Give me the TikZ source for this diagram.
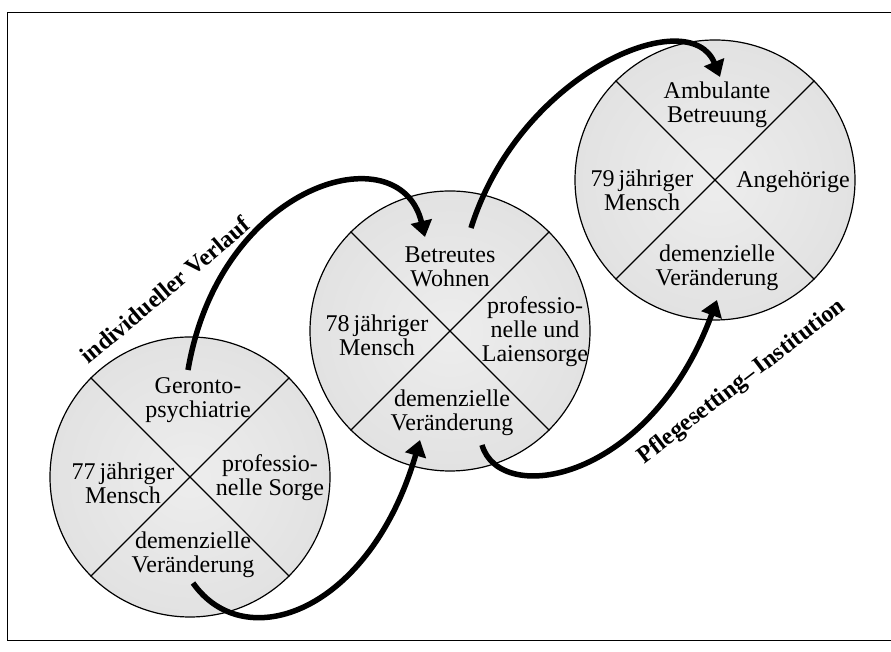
\documentclass[tikz,border=0pt]{standalone}
\usepackage{fontspec}
\setmainfont{Liberation Serif}
\usetikzlibrary{positioning, arrows.meta}
\colorlet{rimlight}{gray!14}
\colorlet{rimmid}{gray!26}
\colorlet{rimdark}{gray!55}
\colorlet{rimedge}{gray!75}
\pgfdeclareradialshading{rim}{\pgfpoint{0bp}{0bp}}{color(0bp)=(rimlight); color(34bp)=(rimmid); color(45bp)=(rimdark); color(50bp)=(rimedge)}

\begin{document}
\begin{tikzpicture}[x=1pt, y=1pt, thick]
    % Define styles
    \tikzstyle{disc} = [circle, draw, line width=1.2pt, minimum size=280pt, shade, shading=rim]
    \tikzstyle{quarter} = [align=center, inner sep=1pt, font=\fontsize{24}{24}\selectfont]
    \tikzstyle{course} = [font=\bfseries\fontsize{24}{24}\selectfont]
    \tikzstyle{flow} = [line width=5.5pt, -{Triangle[width=21pt, length=16pt]}]
    \useasboundingbox (0,0) rectangle (891,652);
    \draw[line width=1pt] (891,639) -- (7,639) -- (7,11) -- (891,11);

    % Circles
    \node [disc] (c1) at (190,175) {};
    \node [disc] (c2) at (450,321) {};
    \node [disc] (c3) at (715,472) {};
    \foreach \c in {c1,c2,c3} {
      \draw[line width=1.2pt] (\c.north west) -- (\c.south east);
      \draw[line width=1.2pt] (\c.north east) -- (\c.south west);
    }

    % Quarters
    \node [quarter] (top1) at ([shift={(8,77)}]c1.center) {Geronto-\\psychiatrie};
    \node [quarter] (left1) at ([shift={(-67,-6)}]c1.center) {77\,jähriger\\Mensch};
    \node [quarter] (right1) at ([shift={(80,-1)}]c1.center) {professio-\\nelle Sorge};
    \node [quarter] (bot1) at ([shift={(3,-78)}]c1.center) {demenzielle\\Veränderung};

    \node [quarter] (top2) at ([shift={(0,64)}]c2.center) {Betreutes\\Wohnen};
    \node [quarter] (left2) at ([shift={(-73,-4)}]c2.center) {78\,jähriger\\Mensch};
    \node [quarter] (right2) at ([shift={(85,-1)}]c2.center) {professio-\\nelle und\\Laiensorge};
    \node [quarter] (bot2) at ([shift={(2,-82)}]c2.center) {demenzielle\\Veränderung};

    \node [quarter] (top3) at ([shift={(2,75)}]c3.center) {Ambulante\\Betreuung};
    \node [quarter] (left3) at ([shift={(-73,-10)}]c3.center) {79\,jähriger\\Mensch};
    \node [quarter] (right3) at ([shift={(78,-2)}]c3.center) {Angehörige};
    \node [quarter] (bot3) at ([shift={(2,-88)}]c3.center) {demenzielle\\Veränderung};

    % Captions
    \node [course, rotate=40] (verlauf) at (165,362) {individueller Verlauf};
    \node [course, rotate=37.5] (setting) at (742,270) {Pflegesetting--\,Institution};

    % Connections
    \coordinate (s1) at ([shift={(-2,107)}]c1.center);
    \coordinate (e1) at ([shift={(-25,94)}]c2.center);
    \coordinate (s2) at ([shift={(21,103)}]c2.center);
    \coordinate (e2) at ([shift={(5,103)}]c3.center);
    \coordinate (s3) at ([shift={(3,-106)}]c1.center);
    \coordinate (e3) at ([shift={(-30,-109)}]c2.center);
    \coordinate (s4) at ([shift={(32,-114)}]c2.center);
    \coordinate (e4) at ([shift={(2,-120)}]c3.center);
    \draw[flow] (s1) .. controls +(32,188) and +(-25,105) .. (e1);
    \draw[flow] (s2) .. controls +(49,156) and +(-30,75) .. (e2);
    \draw[flow] (s3) .. controls +(52,-74) and +(-50,-172) .. (e3);
    \draw[flow] (s4) .. controls +(18,-62) and +(-67,-182) .. (e4);

  \end{tikzpicture}
\end{document}
